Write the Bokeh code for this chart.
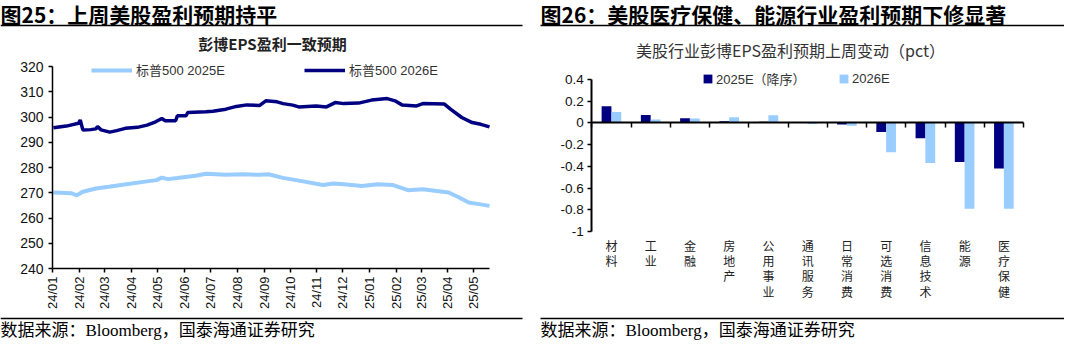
from datetime import datetime
import pandas as pd
from bokeh.plotting import figure
from bokeh.models import (Range1d, FixedTicker, Label, BoxAnnotation, Legend, LegendItem,
                          LinearAxis, DatetimeAxis, NumeralTickFormatter, ColumnDataSource,
                          DatetimeTickFormatter)
from bokeh.transform import dodge
from bokeh.layouts import row
from bokeh.embed import file_html
from bokeh.resources import INLINE

# ---------------- data: left chart ----------------
dates_2025e = ["2024-01-02", "2024-01-23", "2024-01-29", "2024-02-05", "2024-02-20", "2024-03-06",
               "2024-03-22", "2024-04-19", "2024-04-30", "2024-05-06", "2024-05-13", "2024-05-24",
               "2024-06-14", "2024-06-26", "2024-07-19", "2024-08-07", "2024-08-27", "2024-09-06",
               "2024-09-23", "2024-10-16", "2024-11-08", "2024-11-20", "2024-12-02", "2024-12-23",
               "2025-01-10", "2025-01-27", "2025-02-14", "2025-03-03", "2025-04-02", "2025-04-14",
               "2025-04-25", "2025-05-07", "2025-05-19"]
eps_2025e = [270.1, 269.8, 269.0, 270.4, 271.7, 272.4,
             273.2, 274.5, 275.0, 276.0, 275.4, 275.8,
             276.7, 277.5, 277.1, 277.3, 277.1, 277.3,
             275.9, 274.5, 273.1, 273.7, 273.4, 272.7,
             273.4, 273.1, 271.0, 271.4, 270.1, 268.1,
             266.1, 265.5, 264.8]

dates_2026e = ["2024-01-02", "2024-01-17", "2024-01-31", "2024-02-02", "2024-02-05", "2024-02-14",
               "2024-02-20", "2024-02-22", "2024-02-26", "2024-03-07", "2024-03-15", "2024-03-25",
               "2024-04-08", "2024-04-19", "2024-04-29", "2024-05-06", "2024-05-10", "2024-05-22",
               "2024-05-24", "2024-06-03", "2024-06-05", "2024-06-26", "2024-07-04", "2024-07-19",
               "2024-07-31", "2024-08-12", "2024-08-27", "2024-09-03", "2024-09-16", "2024-09-23",
               "2024-10-04", "2024-10-11", "2024-10-31", "2024-11-12", "2024-11-22", "2024-12-02",
               "2024-12-19", "2025-01-03", "2025-01-21", "2025-01-30", "2025-02-07", "2025-02-24",
               "2025-03-03", "2025-03-28", "2025-04-04", "2025-04-17", "2025-04-29", "2025-05-09",
               "2025-05-19"]
eps_2026e = [295.7, 296.4, 297.5, 298.8, 294.9, 295.0,
             295.3, 296.2, 294.9, 294.0, 294.6, 295.5,
             295.9, 296.8, 298.1, 299.4, 298.5, 298.5,
             300.5, 300.5, 301.8, 302.1, 302.3, 303.1,
             304.2, 304.8, 304.6, 306.4, 306.0, 305.3,
             304.7, 304.0, 304.4, 304.0, 305.7, 305.3,
             305.5, 306.7, 307.3, 306.4, 304.8, 304.4,
             305.3, 305.1, 303.1, 299.8, 297.8, 297.1,
             296.1]

month_ticks = ["2024-01-01", "2024-02-01", "2024-03-01", "2024-04-01", "2024-05-01", "2024-06-01",
               "2024-07-01", "2024-08-01", "2024-09-01", "2024-10-01", "2024-11-01", "2024-12-01",
               "2025-01-01", "2025-02-01", "2025-03-01", "2025-04-01", "2025-05-01"]
month_labels = ["24/01", "24/02", "24/03", "24/04", "24/05", "24/06", "24/07", "24/08", "24/09",
                "24/10", "24/11", "24/12", "25/01", "25/02", "25/03", "25/04", "25/05"]
left_y_ticks = [240, 250, 260, 270, 280, 290, 300, 310, 320]
x_start, x_end = "2024-01-01", "2025-05-19"

# ---------------- data: right chart ----------------
sectors = ["材料", "工业", "金融", "房地产", "公用事业", "通讯服务", "日常消费", "可选消费",
           "信息技术", "能源", "医疗保健"]
chg_2025e = [0.154, 0.074, 0.043, 0.015, 0.012, 0.005, -0.015, -0.083, -0.14, -0.36, -0.42]
chg_2026e = [0.10, 0.031, 0.04, 0.052, 0.071, -0.01, -0.025, -0.27, -0.37, -0.79, -0.79]
right_y_ticks = [-1, -0.8, -0.6, -0.4, -0.2, 0, 0.2, 0.4]

# ---------------- styles ----------------
W, H = 532, 341
SANS = "'Liberation Sans', 'Noto Sans CJK SC', sans-serif"
CJK = "'Noto Sans CJK SC', sans-serif"
SERIF = "'Liberation Serif', 'Noto Sans CJK SC', serif"
DARK = "#000080"
LIGHT = "#99CCFF"


def make_range(v0, v1, px0, px1, size):
    """Range whose values v0/v1 land at canvas pixels px0/px1 of a frame `size` long."""
    per_px = (v1 - v0) / (px1 - px0)
    return Range1d(v0 - px0 * per_px, v1 + (size - px1) * per_px)


def make_yrange(v_top, v_bot, py_top, py_bot, size):
    per_px = (v_top - v_bot) / (py_bot - py_top)
    return Range1d(v_bot - (size - py_bot) * per_px, v_top + py_top * per_px)


def add_text(p, fx, fy, text, size, font, style="normal", color="#000000", align="left"):
    p.add_layout(Label(x=fx, y=H - fy, x_units="screen", y_units="screen", text=text,
                       text_font_size=size, text_font=font, text_font_style=style,
                       text_color=color, text_align=align, text_baseline="middle"))


def add_rule(p, fx0, fx1, fy, thick=1.5):
    p.add_layout(BoxAnnotation(left=fx0, right=fx1, top=H - fy + thick / 2,
                               bottom=H - fy - thick / 2, left_units="screen",
                               right_units="screen", top_units="screen", bottom_units="screen",
                               fill_color="#000000", fill_alpha=1, line_color=None))


def style_axis(ax, font_size="13px", line_width=1.5):
    ax.major_label_text_font = SANS
    ax.major_label_text_font_size = font_size
    ax.major_label_text_color = "#111111"
    ax.axis_line_width = line_width
    ax.major_tick_in = 0
    ax.major_tick_line_width = 1.5
    ax.minor_tick_line_color = None


def base_figure(x_range, y_range, **kw):
    p = figure(width=W, height=H, x_range=x_range, y_range=y_range, title=None,
               x_axis_location=None, y_axis_location=None, output_backend="svg",
               toolbar_location=None, min_border=0, **kw)
    p.outline_line_color = None
    p.grid.visible = False
    p.background_fill_color = "#ffffff"
    p.border_fill_color = "#ffffff"
    return p


# ---------------- left figure ----------------
t0 = pd.Timestamp(x_start).value / 1e6
t1 = pd.Timestamp(x_end).value / 1e6
p1 = base_figure(make_range(t0, t1, 52, 489, W),
                 make_yrange(left_y_ticks[-1], left_y_ticks[0], 66, 268, H),
                 x_axis_type="datetime")

s25 = ColumnDataSource(dict(x=pd.to_datetime(dates_2025e), y=eps_2025e))
s26 = ColumnDataSource(dict(x=pd.to_datetime(dates_2026e), y=eps_2026e))
r25 = p1.line("x", "y", source=s25, line_color=LIGHT, line_width=4)
r26 = p1.line("x", "y", source=s26, line_color=DARK, line_width=3.5)

tick_ms = [pd.Timestamp(t).value // 10**6 for t in month_ticks]
xa = DatetimeAxis(fixed_location=left_y_ticks[0], bounds=(t0, t1),
                  ticker=FixedTicker(ticks=tick_ms),
                  formatter=DatetimeTickFormatter(years="%y/%m", months="%y/%m", days="%y/%m"))
xa.major_label_overrides = {float(m): lab for m, lab in zip(tick_ms, month_labels)}
style_axis(xa, "13px")
xa.major_label_orientation = 1.5708
xa.major_label_standoff = 4
xa.major_tick_out = 4
p1.add_layout(xa, "below")

ya = LinearAxis(fixed_location=t0, bounds=(left_y_ticks[0], left_y_ticks[-1]),
                ticker=FixedTicker(ticks=left_y_ticks))
style_axis(ya, "14px")
ya.major_label_standoff = 5
ya.major_tick_out = 4
p1.add_layout(ya, "left")

leg1 = Legend(items=[LegendItem(label="标普500 2025E", renderers=[r25]),
                     LegendItem(label="标普500 2026E", renderers=[r26])],
              orientation="horizontal", location=(91, H - 79),
              glyph_width=41, glyph_height=14, label_height=14, label_width=168,
              spacing=0, padding=0, margin=0, label_standoff=4,
              border_line_color=None, background_fill_alpha=0,
              label_text_font=SANS, label_text_font_size="13px", label_text_color="#333333")
p1.add_layout(leg1)

add_text(p1, 0, 13, "图25：上周美股盈利预期持平", "21px", CJK, "bold")
add_text(p1, 272, 43, "彭博EPS盈利一致预期", "15px", CJK, "bold", "#222222", "center")
add_text(p1, 0, 330, "数据来源：Bloomberg，国泰海通证券研究", "17px", SERIF)
add_rule(p1, 0, 522, 25)
add_rule(p1, 0, 522, 318)

# ---------------- right figure ----------------
n = len(sectors)
slot_center = [i + 0.5 for i in range(n)]          # category slots on a numeric scale
p2 = base_figure(make_range(0, n, 59.3, 491, W),
                 make_yrange(right_y_ticks[-1], right_y_ticks[0], 79, 231, H))

src = ColumnDataSource(dict(xc=slot_center, v25=chg_2025e, v26=chg_2026e))
b25 = p2.vbar(x=dodge("xc", -0.125), top="v25", width=0.25, source=src,
              fill_color=DARK, line_color=None)
b26 = p2.vbar(x=dodge("xc", 0.125), top="v26", width=0.25, source=src,
              fill_color=LIGHT, line_color=None)

# category labels hanging below the -1 level
cx = LinearAxis(fixed_location=right_y_ticks[0], ticker=FixedTicker(ticks=slot_center))
cx.major_label_overrides = {c: "\n".join(s) for c, s in zip(slot_center, sectors)}
cx.axis_line_color = None
cx.major_tick_line_color = None
cx.minor_tick_line_color = None
cx.major_tick_out = 0
cx.major_tick_in = 0
cx.major_label_standoff = 8
cx.major_label_text_font = SERIF
cx.major_label_text_font_size = "12px"
cx.major_label_text_line_height = 1.1
cx.major_label_text_color = "#222222"
p2.add_layout(cx, "below")

# zero line with ticks at the category boundaries
zero_axis = LinearAxis(fixed_location=0, bounds=(0, n),
                       ticker=FixedTicker(ticks=list(range(n + 1))))
zero_axis.major_label_overrides = {i: "" for i in range(n + 1)}
style_axis(zero_axis, "10px", 2)
zero_axis.major_tick_out = 5
p2.add_layout(zero_axis, "below")

ry = LinearAxis(fixed_location=0, bounds=(right_y_ticks[0], right_y_ticks[-1]),
                ticker=FixedTicker(ticks=right_y_ticks),
                formatter=NumeralTickFormatter(format="0.[0]"))
style_axis(ry, "13.5px", 2)
ry.major_label_standoff = 4
ry.major_tick_out = 4
p2.add_layout(ry, "left")

leg2 = Legend(items=[LegendItem(label="2025E（降序）", renderers=[b25]),
                     LegendItem(label="2026E", renderers=[b26])],
              orientation="horizontal", location=(170, H - 88),
              glyph_width=11, glyph_height=11, label_height=11, label_width=122,
              spacing=0, padding=0, margin=0, label_standoff=3,
              border_line_color=None, background_fill_alpha=0,
              label_text_font=SANS, label_text_font_size="13px", label_text_color="#333333")
p2.add_layout(leg2)

add_text(p2, 8, 13, "图26：美股医疗保健、能源行业盈利预期下修显著", "21px", CJK, "bold")
add_text(p2, 258, 49, "美股行业彭博EPS盈利预期上周变动（pct）", "16px", CJK,
         "normal", "#333333", "center")
add_text(p2, 8, 330, "数据来源：Bloomberg，国泰海通证券研究", "17px", SERIF)
add_rule(p2, 8, 532, 25)
add_rule(p2, 8, 532, 318)

layout = row(p1, p2, spacing=0)
open("out.html", "w").write(file_html(layout, INLINE))
